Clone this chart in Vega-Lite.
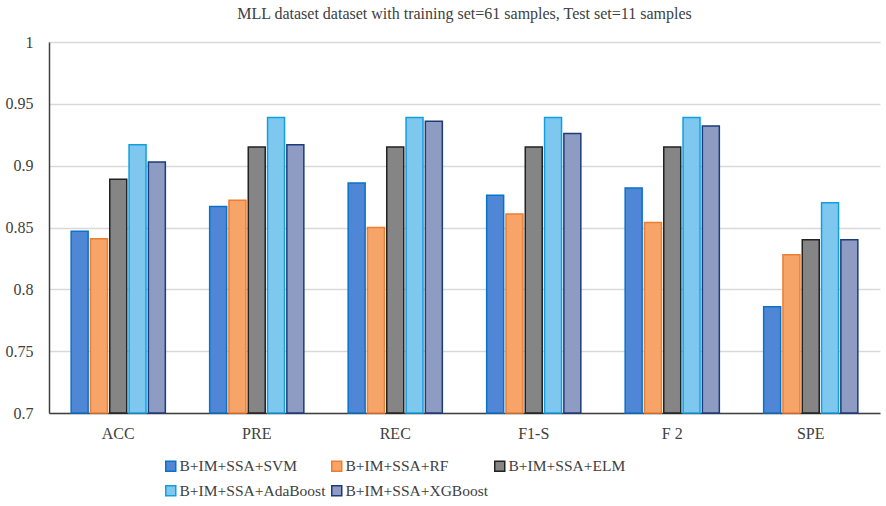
{
  "$schema": "https://vega.github.io/schema/vega-lite/v6.json",
  "width": 831,
  "height": 371,
  "autosize": {"type": "none"},
  "padding": {"left": 49, "top": 42, "right": 6, "bottom": 93},
  "background": "white",
  "title": {
    "text": "MLL dataset dataset with training set=61 samples, Test set=11 samples",
    "font": "Liberation Serif",
    "fontSize": 16,
    "fontWeight": "normal",
    "color": "#404040",
    "anchor": "middle",
    "offset": 12
  },
  "data": {
    "values": [
      {"metric": "ACC", "model": "B+IM+SSA+SVM", "value": 0.847},
      {"metric": "ACC", "model": "B+IM+SSA+RF", "value": 0.841},
      {"metric": "ACC", "model": "B+IM+SSA+ELM", "value": 0.889},
      {"metric": "ACC", "model": "B+IM+SSA+AdaBoost", "value": 0.917},
      {"metric": "ACC", "model": "B+IM+SSA+XGBoost", "value": 0.903},
      {"metric": "PRE", "model": "B+IM+SSA+SVM", "value": 0.867},
      {"metric": "PRE", "model": "B+IM+SSA+RF", "value": 0.872},
      {"metric": "PRE", "model": "B+IM+SSA+ELM", "value": 0.915},
      {"metric": "PRE", "model": "B+IM+SSA+AdaBoost", "value": 0.939},
      {"metric": "PRE", "model": "B+IM+SSA+XGBoost", "value": 0.917},
      {"metric": "REC", "model": "B+IM+SSA+SVM", "value": 0.886},
      {"metric": "REC", "model": "B+IM+SSA+RF", "value": 0.85},
      {"metric": "REC", "model": "B+IM+SSA+ELM", "value": 0.915},
      {"metric": "REC", "model": "B+IM+SSA+AdaBoost", "value": 0.939},
      {"metric": "REC", "model": "B+IM+SSA+XGBoost", "value": 0.936},
      {"metric": "F1-S", "model": "B+IM+SSA+SVM", "value": 0.876},
      {"metric": "F1-S", "model": "B+IM+SSA+RF", "value": 0.861},
      {"metric": "F1-S", "model": "B+IM+SSA+ELM", "value": 0.915},
      {"metric": "F1-S", "model": "B+IM+SSA+AdaBoost", "value": 0.939},
      {"metric": "F1-S", "model": "B+IM+SSA+XGBoost", "value": 0.926},
      {"metric": "F 2", "model": "B+IM+SSA+SVM", "value": 0.882},
      {"metric": "F 2", "model": "B+IM+SSA+RF", "value": 0.854},
      {"metric": "F 2", "model": "B+IM+SSA+ELM", "value": 0.915},
      {"metric": "F 2", "model": "B+IM+SSA+AdaBoost", "value": 0.939},
      {"metric": "F 2", "model": "B+IM+SSA+XGBoost", "value": 0.932},
      {"metric": "SPE", "model": "B+IM+SSA+SVM", "value": 0.786},
      {"metric": "SPE", "model": "B+IM+SSA+RF", "value": 0.828},
      {"metric": "SPE", "model": "B+IM+SSA+ELM", "value": 0.84},
      {"metric": "SPE", "model": "B+IM+SSA+AdaBoost", "value": 0.87},
      {"metric": "SPE", "model": "B+IM+SSA+XGBoost", "value": 0.84}
    ]
  },
  "mark": {"type": "bar", "strokeWidth": 1.5},
  "encoding": {
    "x": {
      "field": "metric",
      "type": "nominal",
      "sort": ["ACC", "PRE", "REC", "F1-S", "F 2", "SPE"],
      "scale": {"paddingInner": 0.32, "paddingOuter": 0.16},
      "axis": {
        "title": null,
        "labelAngle": 0,
        "ticks": false,
        "labelPadding": 12,
        "domainColor": "#404040",
        "domainWidth": 1.5
      }
    },
    "xOffset": {
      "field": "model",
      "type": "nominal",
      "sort": ["B+IM+SSA+SVM", "B+IM+SSA+RF", "B+IM+SSA+ELM", "B+IM+SSA+AdaBoost", "B+IM+SSA+XGBoost"],
      "scale": {"paddingInner": 0.12, "paddingOuter": 0}
    },
    "y": {
      "field": "value",
      "type": "quantitative",
      "scale": {"domain": [0.7, 1], "zero": false, "nice": false},
      "axis": {
        "title": null,
        "values": [0.7, 0.75, 0.8, 0.85, 0.9, 0.95, 1],
        "format": ".2~f",
        "ticks": false,
        "labelPadding": 16,
        "domainColor": "#404040",
        "domainWidth": 1.5,
        "grid": true,
        "gridColor": "#d9d9d9",
        "gridWidth": 1.5
      }
    },
    "y2": {"datum": 0.7},
    "fill": {
      "field": "model",
      "type": "nominal",
      "sort": ["B+IM+SSA+SVM", "B+IM+SSA+RF", "B+IM+SSA+ELM", "B+IM+SSA+AdaBoost", "B+IM+SSA+XGBoost"],
      "scale": {
        "domain": ["B+IM+SSA+SVM", "B+IM+SSA+RF", "B+IM+SSA+ELM", "B+IM+SSA+AdaBoost", "B+IM+SSA+XGBoost"],
        "range": ["#4f86d6", "#f7a468", "#858585", "#7ec8ef", "#8e9cc4"]
      },
      "legend": {
        "title": null,
        "orient": "none",
        "legendX": 114,
        "legendY": 416,
        "direction": "horizontal",
        "columns": 3,
        "columnPadding": 2,
        "rowPadding": 7,
        "padding": 0,
        "symbolType": "square",
        "symbolSize": 100,
        "symbolStrokeWidth": 1.5,
        "labelOffset": 1,
        "labelFontSize": 15.5,
        "labelLimit": 300
      }
    },
    "stroke": {
      "field": "model",
      "type": "nominal",
      "scale": {
        "domain": ["B+IM+SSA+SVM", "B+IM+SSA+RF", "B+IM+SSA+ELM", "B+IM+SSA+AdaBoost", "B+IM+SSA+XGBoost"],
        "range": ["#0a72c8", "#ed7d31", "#222222", "#119fe0", "#1f3a7a"]
      },
      "legend": null
    }
  },
  "config": {
    "font": "Liberation Serif",
    "view": {"stroke": null},
    "axis": {
      "labelFont": "Liberation Serif",
      "labelFontSize": 16,
      "labelColor": "#404040"
    },
    "legend": {
      "labelFont": "Liberation Serif",
      "labelColor": "#404040"
    }
  }
}
